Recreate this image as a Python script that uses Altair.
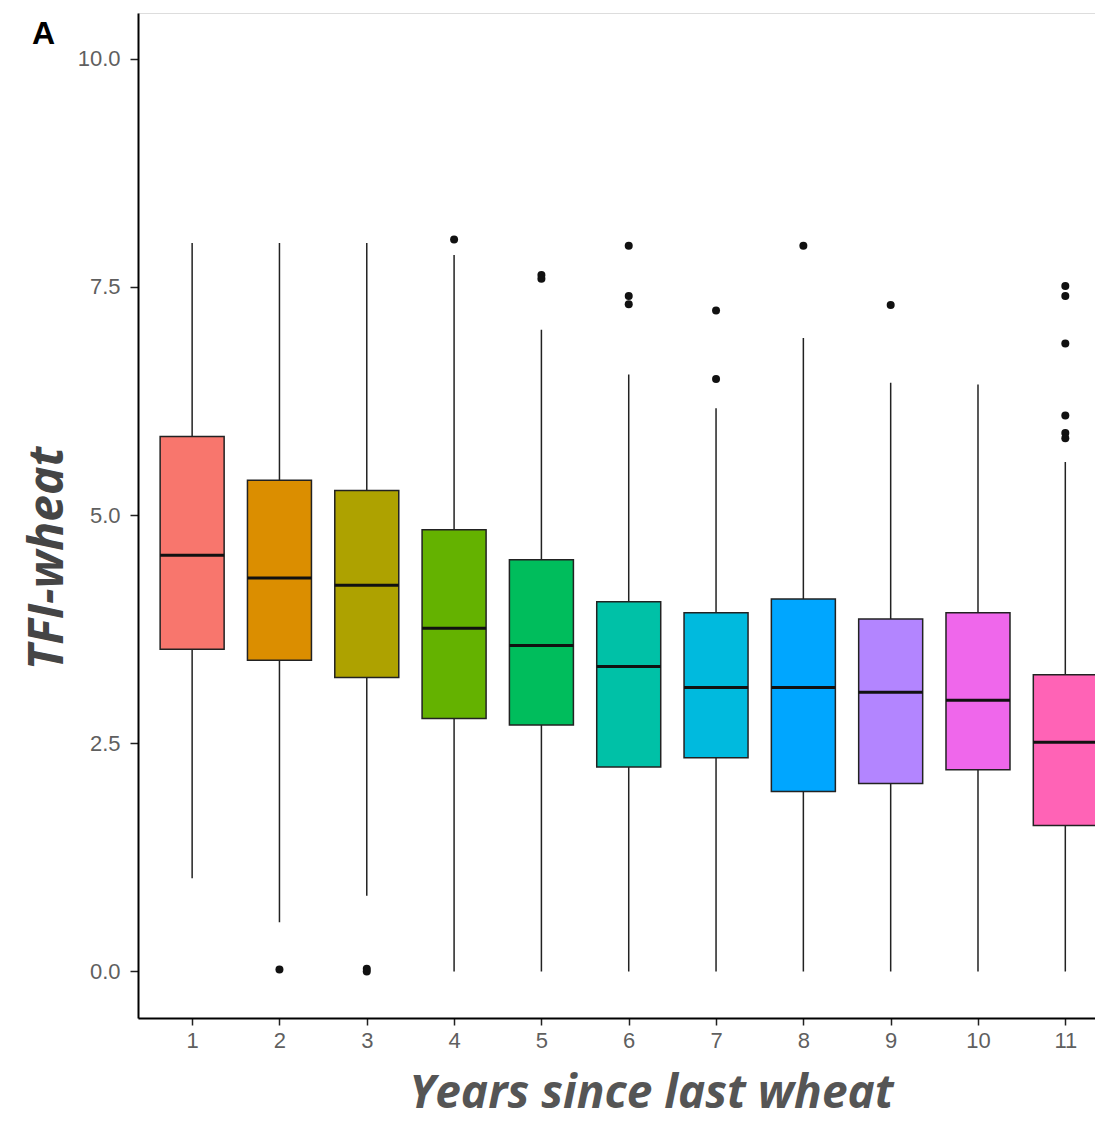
import altair as alt
import pandas as pd

years = [1, 2, 3, 4, 5, 6, 7, 8, 9, 10, 11]
lower = [1.02, 0.54, 0.83, 0.0, 0.0, 0.0, 0.0, 0.0, 0.0, 0.0, 0.0]
q1 = [3.53, 3.41, 3.22, 2.77, 2.70, 2.24, 2.34, 1.97, 2.06, 2.21, 1.60]
median = [4.56, 4.31, 4.23, 3.76, 3.57, 3.34, 3.11, 3.11, 3.06, 2.97, 2.51]
q3 = [5.86, 5.38, 5.27, 4.84, 4.51, 4.05, 3.93, 4.08, 3.86, 3.93, 3.25]
upper = [7.98, 7.98, 7.98, 7.85, 7.03, 6.54, 6.17, 6.94, 6.45, 6.43, 5.58]
colors = ["#F8766D", "#DB8E00", "#AEA200", "#64B200", "#00BD5C", "#00C1A7",
          "#00BADE", "#00A6FF", "#B385FF", "#EF67EB", "#FF63B6"]

out_year = [2, 3, 3, 4, 5, 5, 6, 6, 6, 7, 7, 8, 9, 11, 11, 11, 11, 11, 11]
out_value = [0.02, 0.03, 0.0, 8.02, 7.63, 7.59, 7.95, 7.40, 7.31, 7.24, 6.49,
             7.95, 7.30, 7.51, 7.40, 6.88, 6.09, 5.90, 5.84]

box = pd.DataFrame({"year": years, "lower": lower, "q1": q1, "median": median,
                    "q3": q3, "upper": upper, "color": colors})
outl = pd.DataFrame({"year": out_year, "value": out_value})

xscale = alt.Scale(domain=[0.38, 11.34], nice=False, zero=False, padding=0)
yscale = alt.Scale(domain=[-0.51, 10.5], nice=False, zero=False, padding=0)

xaxis = alt.Axis(values=years, format="d", grid=False, title="Years since last wheat",
                 domainColor="#000000", domainWidth=2, tickColor="#222222", tickWidth=1.5,
                 tickSize=7, labelPadding=5, labelFont="Liberation Sans", labelFontSize=22,
                 labelColor="#5f5f5f", titleFont="Open Sans", titleFontSize=46,
                 titleFontStyle="italic", titleFontWeight="bold", titleColor="#555555",
                 titleX=513, titleY=89, titleAnchor="start", titleAlign="center",
                 titleBaseline="alphabetic")
yaxis = alt.Axis(values=[0, 2.5, 5, 7.5, 10], format=".1f", grid=False, title="TFI-wheat",
                 domainColor="#000000", domainWidth=2, tickColor="#222222", tickWidth=1.5,
                 tickSize=8, labelPadding=10, labelFont="Liberation Sans", labelFontSize=22,
                 labelColor="#5f5f5f", titleFont="Open Sans", titleFontSize=48,
                 titleFontStyle="italic", titleFontWeight="bold", titleColor="#454545",
                 titleX=-76, titleY=545, titleAngle=270, titleAlign="center",
                 titleBaseline="alphabetic")

X = alt.X("year:Q", scale=xscale, axis=xaxis)

base = alt.Chart(box)

whisk = base.mark_rule(color="#222222", strokeWidth=1.5).encode(
    x=X,
    y=alt.Y("lower:Q", scale=yscale, axis=yaxis),
    y2="upper:Q",
)
boxes = base.mark_bar(size=64, stroke="#222222", strokeWidth=1.5).encode(
    x=X,
    y=alt.Y("q1:Q", scale=yscale, axis=yaxis),
    y2="q3:Q",
    color=alt.Color("color:N", scale=None),
)
med = base.mark_tick(orient="horizontal", size=64, thickness=3, color="#111111", opacity=1).encode(
    x=X,
    y=alt.Y("median:Q", scale=yscale, axis=yaxis),
)
pts = alt.Chart(outl).mark_circle(size=64, color="#111111", opacity=1).encode(
    x=X,
    y=alt.Y("value:Q", scale=yscale, axis=yaxis),
)

chart = alt.layer(whisk, boxes, med, pts).properties(
    width=957, height=1005,
    title=alt.TitleParams("A", anchor="start", frame="group", dx=-106, dy=63, offset=0,
                          baseline="alphabetic", font="Liberation Sans", fontSize=32,
                          fontWeight="bold", color="#000000"),
    autosize=alt.AutoSizeParams(type="none"),
    padding={"left": 130, "top": 5, "right": 0, "bottom": 102},
).configure_view(fill="white", stroke="transparent", strokeWidth=0, strokeOpacity=0
).configure(background="white")

chart.save("out.html", embed_options={"renderer": "svg", "actions": False})
